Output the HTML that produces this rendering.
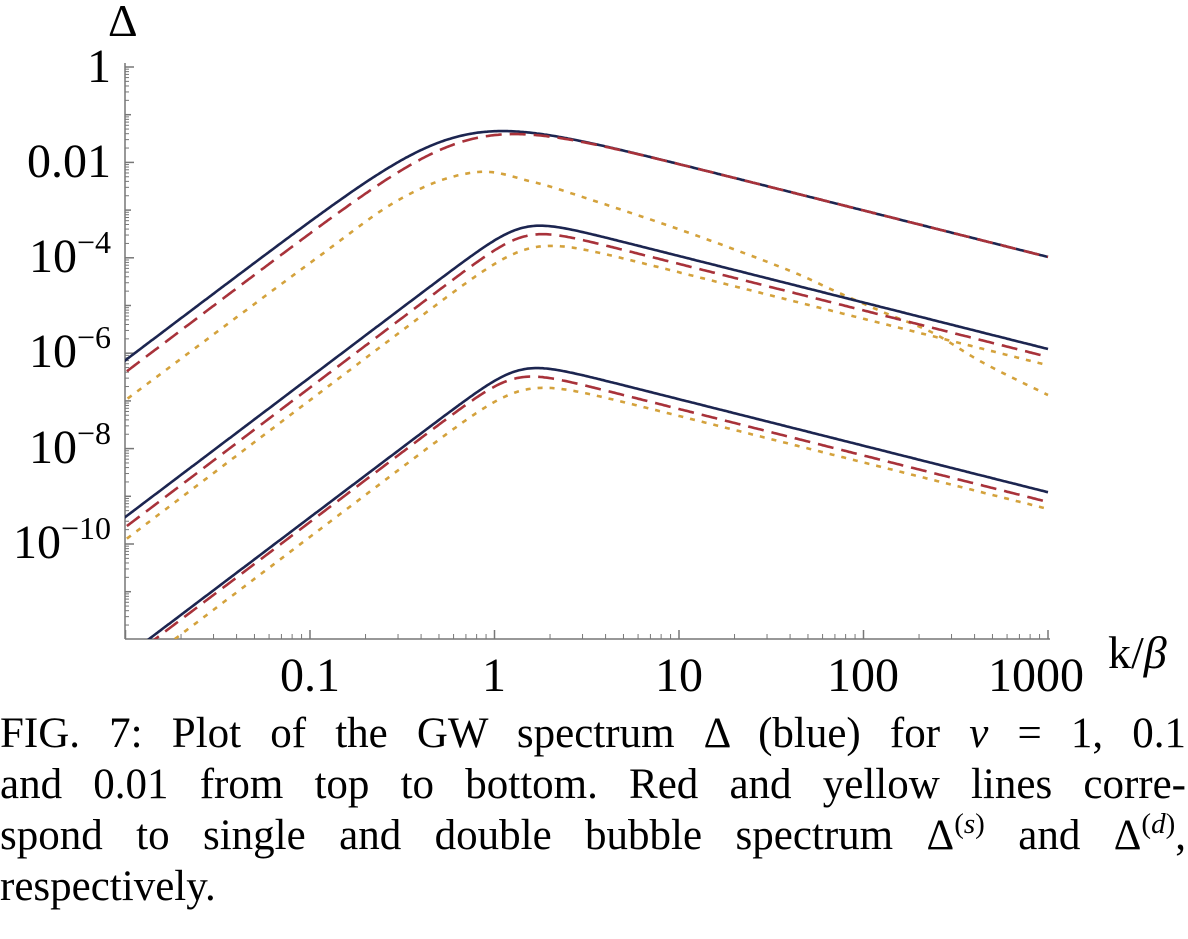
<!DOCTYPE html>
<html><head><meta charset="utf-8"><style>
html,body{margin:0;padding:0;background:#fff;}
svg{display:block;position:absolute;left:0;top:0;}
text{font-family:"Liberation Serif",serif;fill:#000;}
.cap{position:absolute;left:0;width:1186px;font-family:"Liberation Serif",serif;font-size:43px;line-height:51px;color:#000;}
.cap div{text-align:justify;text-align-last:justify;white-space:nowrap;height:51px;}
.cap div.l{text-align-last:left;}
sup{font-size:29px;line-height:0;vertical-align:16px;}
i{font-style:italic;}
</style></head><body>
<svg id="s" width="1188" height="939" viewBox="0 0 1188 939" xmlns="http://www.w3.org/2000/svg">
<defs><clipPath id="c"><rect x="125" y="60" width="930" height="579"/></clipPath></defs>
<g id="axes" stroke="#777" stroke-width="1.5" fill="none"></g>
<g id="curves" clip-path="url(#c)" fill="none" stroke-width="2.6"></g>
<text x="108" y="36" font-size="46">Δ</text>
<g font-size="48" text-anchor="end">
<text x="111" y="82">1</text>
<text x="111" y="177">0.01</text>
<text x="111" y="272">10<tspan font-size="32" dy="-19">−4</tspan></text>
<text x="111" y="367">10<tspan font-size="32" dy="-19">−6</tspan></text>
<text x="111" y="463">10<tspan font-size="32" dy="-19">−8</tspan></text>
<text x="111" y="558">10<tspan font-size="32" dy="-19">−10</tspan></text>
</g>
<g font-size="48" text-anchor="middle">
<text x="310" y="691">0.1</text>
<text x="494" y="691">1</text>
<text x="679" y="691">10</text>
<text x="863" y="691">100</text>
<text x="1036" y="691">1000</text>
</g>
<text x="1108" y="668" font-size="46">k/<tspan font-style="italic">β</tspan></text>
</svg>
<div class="cap" style="top:708px">
<div>FIG. 7: Plot of the GW spectrum Δ (blue) for <i>v</i> = 1, 0.1</div>
<div>and 0.01 from top to bottom. Red and yellow lines corre-</div>
<div>spond to single and double bubble spectrum Δ<sup>(<i>s</i>)</sup> and Δ<sup>(<i>d</i>)</sup>,</div>
<div class="l">respectively.</div>
</div>
<script>
(function(){
var NS="http://www.w3.org/2000/svg";
var X=function(l){return 494.5+184.5*l;};
var Yc=function(L){return 70-46.5*L;};
var Yt=function(L){return 67-47.7*L;};
var ax=document.getElementById('axes');
function line(x1,y1,x2,y2,w){var e=document.createElementNS(NS,'line');e.setAttribute('x1',x1);e.setAttribute('y1',y1);e.setAttribute('x2',x2);e.setAttribute('y2',y2);if(w)e.setAttribute('stroke-width',w);ax.appendChild(e);}
line(125,63,125,639);line(125,639,1050,639);
for(var d=0;d>=-12;d--){var y=Yt(d);if(y>=63&&y<=639){line(125,y,(d%2==0)?134:131,y);}
 for(var m=2;m<=9;m++){var yy=Yt(d-1+Math.log10(m));if(yy>63&&yy<639)line(125,yy,129,yy,1);}}
for(var e=-2;e<=3;e++){var x=X(e);if(x>=125&&x<=1051)line(x,639,x,630);
 for(var m=2;m<=9;m++){var xx=X(e+Math.log10(m));if(xx>125&&xx<1050)line(xx,639,xx,634,1);}}
var cv=document.getElementById('curves');
function path(pts,col,dash){var d='';pts.forEach(function(p,i){d+=(i?'L':'M')+X(p[0]).toFixed(1)+' '+Yc(p[1]).toFixed(1);});
 var e=document.createElementNS(NS,'path');e.setAttribute('d',d);e.setAttribute('stroke',col);if(dash)e.setAttribute('stroke-dasharray',dash);cv.appendChild(e);}
function model(a,E,n){var xc=(E-a+3)/4;var p=[];for(var x=-2.2;x<=3.001;x+=0.01){p.push([x,a+3*x-(4/n)*Math.log10(1+Math.pow(10,n*(x-xc)))]);}return p;}
function spline(k){var p=[];for(var i=0;i<k.length-1;i++){var p0=k[Math.max(i-1,0)],p1=k[i],p2=k[i+1],p3=k[Math.min(i+2,k.length-1)];
 for(var t=0;t<1;t+=0.05){var t2=t*t,t3=t2*t;var f=function(a,b,c,d){return 0.5*(2*b+(-a+c)*t+(2*a-5*b+4*c-d)*t2+(-a+3*b-3*c+d)*t3);};p.push([f(p0[0],p1[0],p2[0],p3[0]),f(p0[1],p1[1],p2[1],p3[1])]);}}
 p.push(k[k.length-1]);return p;}
var B='#1c2550',R='#a8323a',Yl='#d4a23c',DR='16 8',DY='5 7';
path(model(-0.24,-4.02,2),B);
path(model(-0.5,-4.02,2),R,DR);
path(spline([[-2.3,-8.0],[-2,-7.1],[-1,-4.15],[-0.5,-2.75],[-0.108,-2.2],[0.2,-2.4],[0.53,-2.8],[1.06,-3.51],[1.59,-4.3],[1.854,-4.77],[2.12,-5.23],[2.38,-5.66],[2.65,-6.3],[3,-6.99]]),Yl,DY);
path(model(-3.61,-6.0,5),B);
path(model(-3.83,-6.17,5),R,DR);
path(model(-4.1,-6.35,4),Yl,DY);
path(model(-6.62,-9.08,5),B);
path(model(-6.72,-9.29,5),R,DR);
path(model(-7.04,-9.44,4),Yl,DY);
})();
</script>
</body></html>
